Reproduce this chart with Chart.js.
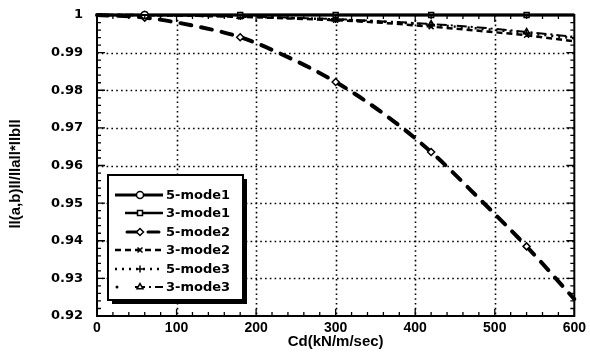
<!DOCTYPE html>
<html><head><meta charset="utf-8">
<script src="https://cdn.jsdelivr.net/npm/chart.js@4"></script>
<style>html,body{margin:0;padding:0;background:#fff}#wrap{width:590px;height:359px;position:relative}</style>
</head><body><div id="wrap"><canvas id="c" width="590" height="359"></canvas></div>
<script>
// ---- data ----
const cd = [0, 60, 120, 180, 240, 300, 360, 420, 480, 540, 600];
const fiveMode1  = [1, 1, 1, 1, 1, 1, 1, 1, 1, 1, 1];
const threeMode1 = [1, 1, 1, 1, 1, 1, 1, 1, 1, 1, 1];
const fiveMode2  = [1, 0.9993, 0.9972, 0.9941, 0.9888, 0.9822, 0.9738, 0.9636, 0.9513, 0.9385, 0.9245];
const threeMode2 = [1, 0.99995, 0.9998, 0.9995, 0.9991, 0.9986, 0.9979, 0.9969, 0.9958, 0.9946, 0.9930];
const fiveMode3  = [1, 0.99995, 0.9998, 0.9996, 0.9992, 0.9988, 0.9982, 0.9974, 0.9964, 0.9952, 0.9938];
const threeMode3 = [1, 0.99995, 0.99985, 0.9996, 0.9993, 0.9989, 0.9983, 0.9976, 0.9967, 0.9955, 0.9942];
const seriesLabels = ['5-mode1', '3-mode1', '5-mode2', '3-mode2', '5-mode3', '3-mode3'];
const xTicks = [0, 100, 200, 300, 400, 500, 600];
const yTicks = [0.92, 0.93, 0.94, 0.95, 0.96, 0.97, 0.98, 0.99, 1];
const xTitle = 'Cd(kN/m/sec)';
const yTitle = 'll(a,b)ll/llall*llbll';

const markerRadii = cd.map((v, i) => (i % 2 === 1 ? 3.5 : 0));
const firstMarkerOnly = cd.map((v, i) => (i === 1 ? 3.5 : 0));
const values = [fiveMode1, threeMode1, fiveMode2, threeMode2, fiveMode3, threeMode3];
const styles = [
  {pointStyle: 'circle',   borderWidth: 3,   borderDash: [], radii: firstMarkerOnly},
  {pointStyle: 'rect',     borderWidth: 2.5, borderDash: [], radii: markerRadii},
  {pointStyle: 'rectRot',  borderWidth: 4,   borderDash: [11, 10], radii: markerRadii},
  {pointStyle: 'crossRot', borderWidth: 2.5, borderDash: [6, 4], radii: markerRadii},
  {pointStyle: 'cross',    borderWidth: 2.5, borderDash: [2, 5], radii: markerRadii},
  {pointStyle: 'triangle', borderWidth: 2,   borderDash: [10, 4, 2, 4], radii: markerRadii}
];

const datasets = values.map((vals, k) => ({
  label: seriesLabels[k],
  data: cd.map((x, i) => ({x: x, y: vals[i]})),
  borderColor: '#000',
  backgroundColor: '#fff',
  pointBackgroundColor: '#fff',
  pointBorderColor: '#000',
  pointBorderWidth: 1.5,
  pointRadius: styles[k].radii,
  pointStyle: styles[k].pointStyle,
  borderWidth: styles[k].borderWidth,
  borderDash: styles[k].borderDash,
  borderCapStyle: k === 2 ? 'round' : 'butt',
  cubicInterpolationMode: 'monotone',
  clip: false,
  fill: false
}));

const decoPlugin = {
  id: 'deco',
  beforeDatasetsDraw(chart) {
    const {ctx, chartArea: a, scales: {x, y}} = chart;
    ctx.save();
    ctx.strokeStyle = '#000';
    ctx.lineWidth = 1.6;
    ctx.setLineDash([1.6, 3.2]);
    xTicks.slice(1, -1).forEach(v => {
      const px = Math.round(x.getPixelForValue(v)) + 0.5;
      ctx.beginPath(); ctx.moveTo(px, a.top); ctx.lineTo(px, a.bottom); ctx.stroke();
    });
    yTicks.slice(1, -1).forEach(v => {
      const py = Math.round(y.getPixelForValue(v)) + 0.5;
      ctx.beginPath(); ctx.moveTo(a.left, py); ctx.lineTo(a.right, py); ctx.stroke();
    });
    ctx.restore();
  },
  afterDatasetsDraw(chart) {
    const {ctx, chartArea: a, scales: {x, y}} = chart;
    ctx.save();
    ctx.strokeStyle = '#000';
    ctx.setLineDash([]);
    // frame
    ctx.lineWidth = 2;
    ctx.strokeRect(a.left, a.top, a.right - a.left, a.bottom - a.top);
    // ticks
    ctx.lineWidth = 1.3;
    for (let v = 0; v <= 600; v += 20) {
      const px = x.getPixelForValue(v);
      const len = v % 100 === 0 ? 7 : 4;
      ctx.beginPath();
      ctx.moveTo(px, a.bottom); ctx.lineTo(px, a.bottom - len);
      ctx.moveTo(px, a.top); ctx.lineTo(px, a.top + len);
      ctx.stroke();
    }
    for (let i = 0; i <= 40; i++) {
      const v = 0.92 + i * 0.002;
      const py = y.getPixelForValue(v);
      const len = i % 5 === 0 ? 8 : 4;
      ctx.beginPath();
      ctx.moveTo(a.left, py); ctx.lineTo(a.left + len, py);
      ctx.moveTo(a.right, py); ctx.lineTo(a.right - len, py);
      ctx.stroke();
    }
    // legend box
    const bx = 108, by = 175, bw = 135, bh = 125;
    ctx.fillStyle = '#fff';
    ctx.fillRect(bx, by, bw, bh);
    ctx.fillStyle = '#000';
    ctx.fillRect(bx + 4, by + bh, bw, 4);
    ctx.fillRect(bx + bw, by + 4, 4, bh);
    ctx.lineWidth = 2;
    ctx.strokeRect(bx, by, bw, bh);
    const rowY = [195, 213, 232, 250, 269, 287];
    const startX = [115, 125, 127, 115, 115, 135];
    chart.data.datasets.forEach((ds, k) => {
      const ry = rowY[k];
      ctx.save();
      ctx.strokeStyle = '#000';
      ctx.lineWidth = Math.min(ds.borderWidth, 3);
      ctx.setLineDash(ds.borderDash);
      ctx.lineCap = ds.borderCapStyle;
      ctx.beginPath(); ctx.moveTo(startX[k], ry); ctx.lineTo(163, ry); ctx.stroke();
      if (k === 5) {
        ctx.setLineDash([]);
        ctx.fillStyle = '#000';
        ctx.beginPath(); ctx.arc(117, ry, 1.5, 0, Math.PI * 2); ctx.fill();
      }
      ctx.setLineDash([]);
      ctx.fillStyle = '#fff';
      ctx.strokeStyle = '#000';
      ctx.lineWidth = 1.5;
      Chart.helpers.drawPoint(ctx, {pointStyle: ds.pointStyle, radius: 3.5, borderWidth: 1.5, rotation: 0}, 140, ry);
      ctx.restore();
      ctx.fillStyle = '#000';
      ctx.font = 'bold 13px "DejaVu Sans"';
      ctx.textAlign = 'left';
      ctx.textBaseline = 'middle';
      ctx.fillText(ds.label, 166, ry + 1);
    });
    // y title
    ctx.save();
    ctx.translate(16, 174);
    ctx.rotate(-Math.PI / 2);
    ctx.fillStyle = '#000';
    ctx.font = 'bold 15px "Liberation Sans", Arial, sans-serif';
    ctx.textAlign = 'center';
    ctx.textBaseline = 'middle';
    ctx.fillText(yTitle, 0, 0);
    ctx.restore();
    ctx.restore();
  }
};

new Chart(document.getElementById('c'), {
  type: 'line',
  data: {datasets: datasets},
  options: {
    responsive: false,
    animation: false,
    events: [],
    layout: {padding: {left: 0, right: 11, top: 15, bottom: 0}},
    plugins: {legend: {display: false}, tooltip: {enabled: false}},
    scales: {
      x: {
        type: 'linear', min: 0, max: 600,
        afterBuildTicks: s => { s.ticks = xTicks.map(v => ({value: v})); },
        afterFit: s => { s.height = 43; },
        grid: {display: false, drawTicks: false},
        border: {display: false},
        ticks: {color: '#000', padding: 4, maxRotation: 0,
                font: {family: '"Liberation Sans", Arial', size: 14, weight: 'bold'}},
        title: {display: true, text: xTitle, color: '#000', padding: {top: 0, bottom: 8},
                font: {family: '"Liberation Sans", Arial', size: 15, weight: 'bold'}}
      },
      y: {
        type: 'linear', min: 0.92, max: 1,
        afterBuildTicks: s => { s.ticks = yTicks.map(v => ({value: v})); },
        afterFit: s => { s.width = 97; s.paddingTop = 0; s.paddingBottom = 0; },
        grid: {display: false, drawTicks: false},
        border: {display: false},
        ticks: {color: '#000', padding: 14,
                callback: v => (Math.abs(v - 1) < 1e-9 ? '1' : v.toFixed(2)),
                font: {family: '"DejaVu Sans"', size: 13, weight: 'bold'}}
      }
    }
  },
  plugins: [decoPlugin]
});
</script>
</body></html>
